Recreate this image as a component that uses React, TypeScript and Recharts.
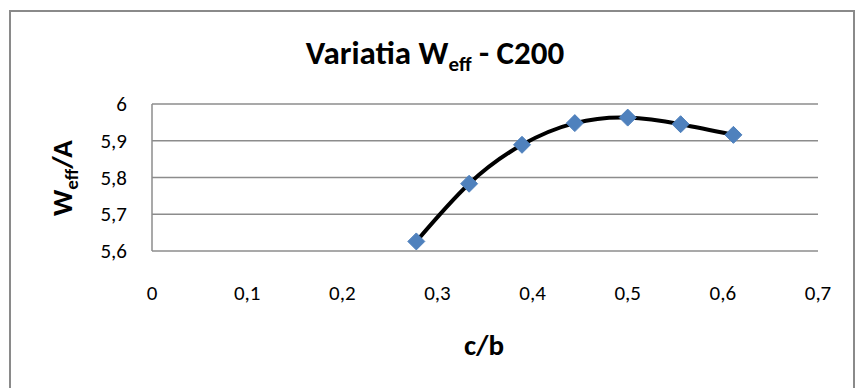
import React from "react";
import { ComposedChart, Line, XAxis, YAxis, CartesianGrid, Customized } from "recharts";

const cbValues = [0.2778, 0.3333, 0.3889, 0.4444, 0.5, 0.5556, 0.6111];
const weffValues = [5.626, 5.783, 5.889, 5.948, 5.963, 5.945, 5.916];
const xTicks = [0, 0.1, 0.2, 0.3, 0.4, 0.5, 0.6, 0.7];
const yTicks = [5.6, 5.7, 5.8, 5.9, 6];

const data = cbValues.map((x, i) => ({ x, y: weffValues[i] }));

const FONT = "Carlito, Lato, 'Open Sans', sans-serif";
const fmt = (v: number) => String(Math.round(v * 10) / 10).replace(".", ",");

const XTick = (props: any) => {
  const { x, payload } = props;
  return (
    <text x={x} y={293} textAnchor="middle" dominantBaseline="central" fontFamily={FONT} fontSize={21} fill="#000">
      {fmt(payload.value)}
    </text>
  );
};

const YTick = (props: any) => {
  const { y, payload } = props;
  return (
    <text x={127} y={y} textAnchor="end" dominantBaseline="central" fontFamily={FONT} fontSize={21} fill="#000">
      {fmt(payload.value)}
    </text>
  );
};

const Diamond = (props: any) => {
  const { cx, cy } = props;
  if (cx == null || cy == null) return null;
  const r = 8.5;
  return (
    <path
      d={`M${cx},${cy - r}L${cx + r},${cy}L${cx},${cy + r}L${cx - r},${cy}Z`}
      fill="#4F81BD"
      stroke="#4F81BD"
      strokeWidth={1}
    />
  );
};

const Labels = () => (
  <g>
    <text x={435} y={64} textAnchor="middle" fontFamily={FONT} fontSize={33} fontWeight="bold" fill="#000">
      <tspan>Variatia W</tspan>
      <tspan fontSize={21} dy={7}>eff</tspan>
      <tspan dy={-7}> - C200</tspan>
    </text>
    <text
      x={0}
      y={0}
      transform="translate(72,178) rotate(-90)"
      textAnchor="middle"
      fontFamily={FONT}
      fontSize={29}
      fontWeight="bold"
      fill="#000"
    >
      <tspan>W</tspan>
      <tspan fontSize={19} dy={6}>eff</tspan>
      <tspan dy={-6}>/A</tspan>
    </text>
    <text x={484} y={355} textAnchor="middle" fontFamily={FONT} fontSize={29} fontWeight="bold" fill="#000">
      c/b
    </text>
  </g>
);

export default function App() {
  return (
    <div style={{ position: "relative", width: 860, height: 388, overflow: "hidden", background: "#fff" }}>
      <style>{`body{margin:0}`}</style>
      <ComposedChart
        width={860}
        height={388}
        data={data}
        margin={{ top: 104, right: 42, left: 0, bottom: 0 }}
      >
        <CartesianGrid vertical={false} stroke="#8c8c8c" strokeWidth={1.5} />
        <XAxis
          dataKey="x"
          type="number"
          domain={[0, 0.7]}
          ticks={xTicks}
          height={137}
          axisLine={false}
          tickLine={false}
          tick={<XTick />}
          interval={0}
        />
        <YAxis
          type="number"
          domain={[5.6, 6]}
          ticks={yTicks}
          width={152}
          axisLine={{ stroke: "#8c8c8c", strokeWidth: 1.5 }}
          tickLine={false}
          tick={<YTick />}
          interval={0}
        />
        <Line
          dataKey="y"
          type="natural"
          stroke="#000"
          strokeWidth={4}
          dot={<Diamond />}
          activeDot={false}
          isAnimationActive={false}
        />
        <Customized component={Labels} />
      </ComposedChart>
      <div
        style={{
          position: "absolute",
          left: 9,
          top: 10,
          width: 846,
          height: 420,
          border: "2px solid #8a8a8a",
          boxSizing: "border-box",
          pointerEvents: "none",
        }}
      />
    </div>
  );
}
